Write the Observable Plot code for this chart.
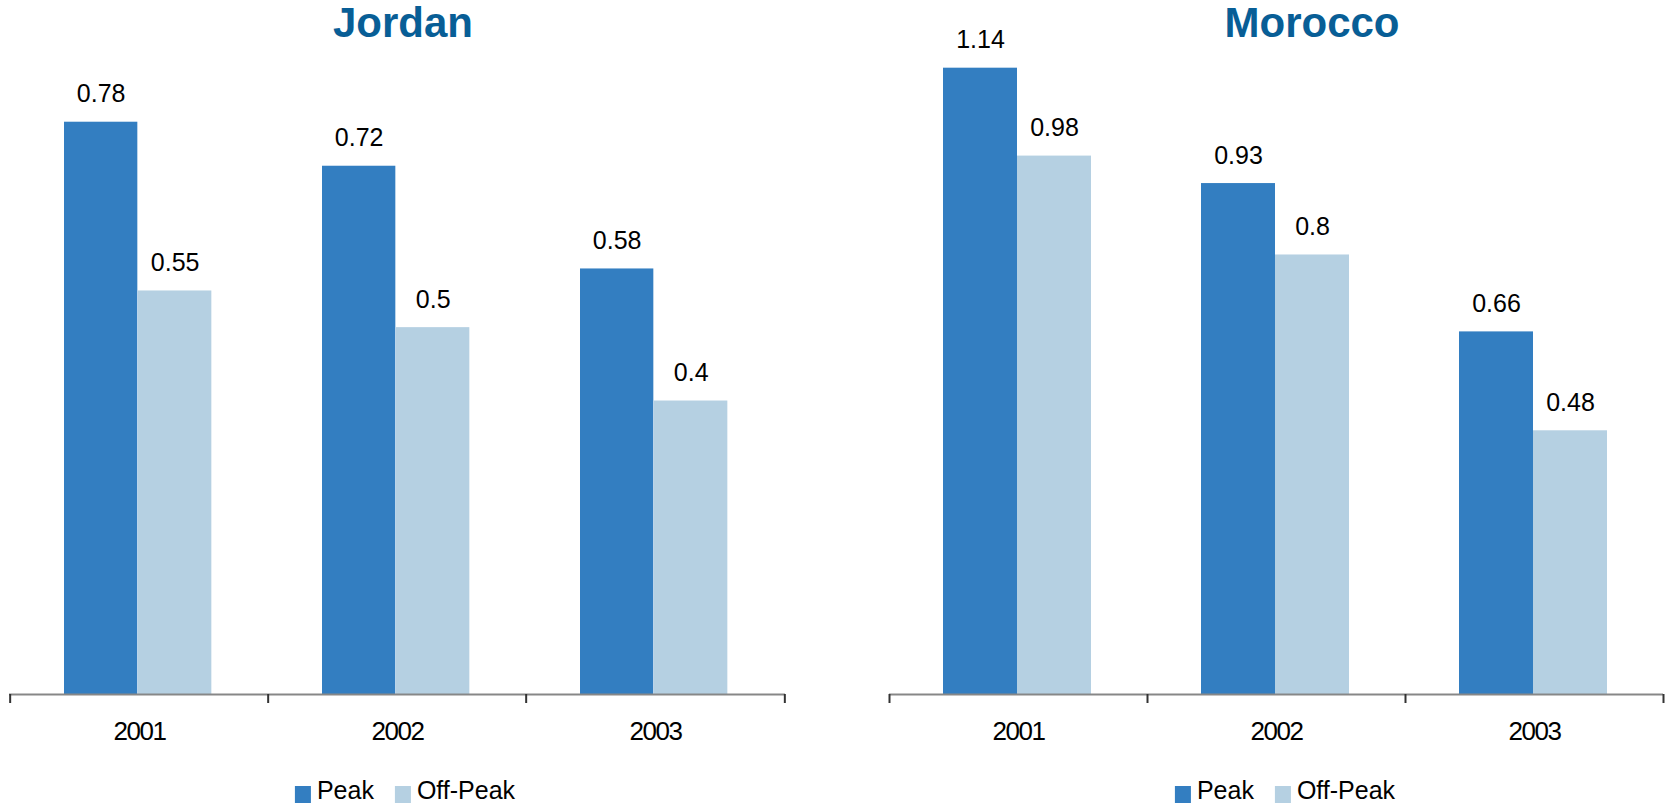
<!DOCTYPE html>
<html>
<head>
<meta charset="utf-8">
<script src="https://cdn.jsdelivr.net/npm/d3@7"></script>
<script src="https://cdn.jsdelivr.net/npm/@observablehq/plot@0.6"></script>
<style>
  html, body { margin: 0; padding: 0; background: #fff; }
  #root { position: relative; width: 1667px; height: 805px; overflow: hidden; font-family: "Liberation Sans", Arial, sans-serif; }
  .panel { position: absolute; top: 0; }
  .title { position: absolute; top: 2px; transform: translateX(-50%); font: bold 42px/42px "Liberation Sans", Arial, sans-serif; color: #085e96; white-space: nowrap; }
  .legend { position: absolute; top: 778px; transform: translateX(-50%); display: flex; align-items: flex-start; font: 25px/25px "Liberation Sans", Arial, sans-serif; color: #000; white-space: nowrap; }
  .legend .item { display: flex; align-items: flex-start; margin-right: 21px; }
  .legend .item:last-child { margin-right: 0; }
  .legend .sw { width: 16px; height: 17px; margin-top: 8px; margin-right: 6px; }
</style>
</head>
<body>
<div id="root"></div>
<script>
const years = ["2001", "2002", "2003"];
const countries = ["Jordan", "Morocco"];
const series = ["Peak", "Off-Peak"];
const seriesColors = ["#337ec1", "#b5d0e2"];
const jordanPeak = [0.78, 0.72, 0.58];
const jordanOffPeak = [0.55, 0.5, 0.4];
const moroccoPeak = [1.14, 0.93, 0.66];
const moroccoOffPeak = [0.98, 0.8, 0.48];

const root = document.getElementById("root");

const panels = [
  {name: countries[0], peak: jordanPeak, off: jordanOffPeak, left: 0, width: 833, ml: 9, mr: 48, yMax: 694 / 733.7, titleX: 403, legendX: 405},
  {name: countries[1], peak: moroccoPeak, off: moroccoOffPeak, left: 833, width: 834, ml: 56, mr: 4, yMax: 694 / 549.4, titleX: 1312, legendX: 1285}
];

const H = 760, MB = 66;

for (const p of panels) {
  const rows = [];
  years.forEach((y, i) => {
    rows.push({year: y, series: series[0], value: p.peak[i]});
    rows.push({year: y, series: series[1], value: p.off[i]});
  });
  const peakRows = rows.filter(d => d.series === series[0]);
  const offRows = rows.filter(d => d.series === series[1]);
  const step = (p.width - p.ml - p.mr) / years.length;

  const chart = Plot.plot({
    width: p.width,
    height: H,
    marginLeft: p.ml,
    marginRight: p.mr,
    marginTop: 0,
    marginBottom: MB,
    style: {fontFamily: "'Liberation Sans', Arial, sans-serif", fontSize: "26px", color: "#000", background: "transparent"},
    x: {type: "band", domain: years, padding: 0, axis: null},
    y: {domain: [0, p.yMax], axis: null},
    marks: [
      Plot.barY(peakRows, {x: "year", y: "value", fill: seriesColors[0], insetLeft: 54, insetRight: step - 128}),
      Plot.barY(offRows, {x: "year", y: "value", fill: seriesColors[1], insetLeft: 128, insetRight: step - 202}),
      Plot.ruleY([0], {stroke: "#878787", strokeWidth: 2}),
      Plot.axisX(years, {tickSize: 9, tickFormat: () => "", label: null, stroke: "#333", strokeWidth: 2, dx: -step / 2}),
      Plot.axisX([years[years.length - 1]], {tickSize: 9, tickFormat: () => "", label: null, stroke: "#333", strokeWidth: 2, dx: step / 2}),
      Plot.axisX(years, {tickSize: 0, tickPadding: 27, label: null, fill: "#000", fontSize: 26}),
      Plot.text(peakRows, {x: "year", y: "value", text: d => String(d.value), dx: 91 - step / 2, dy: -28, fontFamily: "'Liberation Sans', Arial, sans-serif", fontSize: 25, fill: "#000"}),
      Plot.text(offRows, {x: "year", y: "value", text: d => String(d.value), dx: 165 - step / 2, dy: -28, fontFamily: "'Liberation Sans', Arial, sans-serif", fontSize: 25, fill: "#000"})
    ]
  });

  // Year tick labels: same height as the original, slightly tightened like its condensed face
  d3.select(chart).selectAll('g[aria-label="x-axis tick label"] text')
    .style("font-size", "26px")
    .style("letter-spacing", "-1.5px");

  const div = document.createElement("div");
  div.className = "panel";
  div.style.left = p.left + "px";
  div.appendChild(chart);
  root.appendChild(div);

  const title = document.createElement("div");
  title.className = "title";
  title.style.left = p.titleX + "px";
  title.textContent = p.name;
  root.appendChild(title);

  const legend = document.createElement("div");
  legend.className = "legend";
  legend.style.left = p.legendX + "px";
  series.forEach((s, i) => {
    const item = document.createElement("div");
    item.className = "item";
    const sw = document.createElement("div");
    sw.className = "sw";
    sw.style.background = seriesColors[i];
    const label = document.createElement("span");
    label.textContent = s;
    item.appendChild(sw);
    item.appendChild(label);
    legend.appendChild(item);
  });
  root.appendChild(legend);
}
</script>
</body>
</html>
